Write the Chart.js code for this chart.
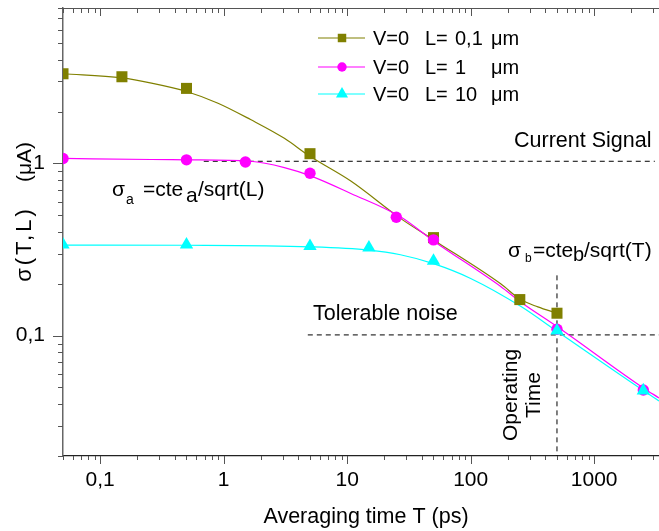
<!DOCTYPE html>
<html>
<head>
<meta charset="utf-8">
<script src="https://cdn.jsdelivr.net/npm/chart.js@4.4.1/dist/chart.umd.min.js"></script>
<style>
  html, body { margin: 0; padding: 0; background: #fff; overflow: hidden; }
  #wrap { width: 659px; height: 531px; }
</style>
</head>
<body>
<div id="wrap"><canvas id="noiseChart" width="659" height="531"></canvas></div>
<script>
// measured noise sigma (uA) against averaging time T (ps)
const oliveT = [0.05, 0.15, 0.5, 5, 50, 250, 500];
const oliveSigma = [3.32, 3.19, 2.73, 1.14, 0.371, 0.162, 0.135];
const pinkT = [0.05, 0.5, 1.5, 5, 25, 50, 500, 2500];
const pinkSigma = [1.07, 1.05, 1.02, 0.878, 0.487, 0.36, 0.109, 0.0483];
const cyanT = [0.05, 0.5, 5, 15, 50, 500, 2500];
const cyanSigma = [0.338, 0.338, 0.331, 0.324, 0.272, 0.107, 0.048];

// fitted curves through each series
const oliveFitT = [0.05, 0.15, 0.26, 0.5, 0.9, 1.65, 3.1, 5, 10.7, 27, 50, 175, 254, 350, 500];
const oliveFitSigma = [3.32, 3.14, 2.93, 2.62, 2.24, 1.80, 1.40, 1.10, 0.79, 0.48, 0.36, 0.20, 0.162, 0.147, 0.135];
const pinkFitT = [0.05, 0.26, 0.5, 1.65, 3.1, 5, 10.7, 27, 50, 175, 254, 500, 2500, 3350];
const pinkFitSigma = [1.07, 1.055, 1.05, 1.03, 0.947, 0.85, 0.67, 0.49, 0.355, 0.193, 0.157, 0.113, 0.0497, 0.0435];
const cyanFitT = [0.05, 0.5, 5, 15, 27, 50, 100, 254, 500, 2500, 3350];
const cyanFitSigma = [0.336, 0.335, 0.328, 0.314, 0.295, 0.262, 0.215, 0.148, 0.106, 0.048, 0.0418];

// reference levels
const signalT = [0.69, 3100];
const signalSigma = [1.03, 1.03];
const noiseT = [4.8, 3350];
const noiseSigma = [0.101, 0.101];
const opTimeT = [500, 500];
const opTimeSigma = [0.224, 0.02];

const xTickValues = [0.1, 1, 10, 100, 1000];
const xTickLabels = ['0,1', '1', '10', '100', '1000'];
const yTickValues = [0.1, 1];
const yTickLabels = ['0,1', '1'];

const legendLabels = [
  ['V=0', 'L=', '0,1', 'μm'],
  ['V=0', 'L=', '1', 'μm'],
  ['V=0', 'L=', '10', 'μm']
];

const OLIVE = '#808000', PINK = '#ff00ff', CYAN = '#00ffff';
const FAMILY = '"Liberation Sans", Arial, sans-serif';
const AXIS = '#555';

Chart.defaults.font.family = FAMILY;
Chart.defaults.color = '#000';

function pts(xs, ys) {
  return xs.map((t, i) => ({ x: t, y: ys[i] }));
}

function markers(xs, ys, color, style, radius) {
  return {
    data: pts(xs, ys),
    showLine: false,
    pointStyle: style,
    pointRadius: radius,
    pointBackgroundColor: color,
    pointBorderWidth: 0,
    borderColor: color,
    backgroundColor: color,
    clip: 0
  };
}

function curve(xs, ys, color) {
  return {
    data: pts(xs, ys),
    showLine: true,
    borderColor: color,
    borderWidth: 1.2,
    pointRadius: 0,
    cubicInterpolationMode: 'monotone',
    clip: 0
  };
}

function dashed(xs, ys) {
  return {
    data: pts(xs, ys),
    showLine: true,
    borderColor: '#000',
    borderWidth: 1,
    borderDash: [5, 4],
    pointRadius: 0,
    clip: 0
  };
}

function text(ctx, str, x, y, size, align) {
  ctx.font = size + 'px ' + FAMILY;
  ctx.textAlign = align || 'left';
  ctx.textBaseline = 'alphabetic';
  ctx.fillText(str, x, y);
}

function seg(ctx, x1, y1, x2, y2) {
  ctx.beginPath();
  ctx.moveTo(x1, y1);
  ctx.lineTo(x2, y2);
  ctx.stroke();
}

// keep the plot box fixed: no extra room for tick labels
function noPadding(scale) {
  scale.paddingTop = 0;
  scale.paddingBottom = 0;
  scale.paddingLeft = 0;
  scale.paddingRight = 0;
}

// tick marks, top frame, legend and the notes on the plot
const decorations = {
  id: 'decorations',
  afterDraw(chart) {
    const { ctx, chartArea: a, scales: { x, y } } = chart;
    ctx.save();
    ctx.strokeStyle = AXIS;
    ctx.lineWidth = 1;

    // top frame
    seg(ctx, a.left, a.top + 0.5, a.right, a.top + 0.5);

    for (let e = -2; e <= 3; e++) {
      for (let m = 1; m <= 9; m++) {
        const v = m * Math.pow(10, e);
        if (v < x.min * 0.999 || v > x.max) continue;
        const px = Math.round(x.getPixelForValue(v)) + 0.5;
        const major = m === 1;
        seg(ctx, px, a.bottom, px, a.bottom + (major ? 8 : 4));
        seg(ctx, px, a.top, px, a.top + (major ? 8 : 5));
      }
    }
    for (let e = -2; e <= 0; e++) {
      for (let m = 1; m <= 9; m++) {
        const v = m * Math.pow(10, e);
        if (v < y.min * 0.999 || v > y.max * 1.001) continue;
        const py = Math.round(y.getPixelForValue(v)) + 0.5;
        const major = m === 1;
        seg(ctx, a.left, py, a.left - (major ? 10 : 5), py);
      }
    }

    // legend
    const rows = [
      { color: OLIVE, style: 'rect', r: 6, y: 38 },
      { color: PINK, style: 'circle', r: 4.7, y: 67 },
      { color: CYAN, style: 'triangle', r: 7, y: 94 }
    ];
    rows.forEach((row, i) => {
      ctx.strokeStyle = row.color;
      ctx.lineWidth = 1.2;
      seg(ctx, 318, row.y, 365, row.y);
      ctx.fillStyle = row.color;
      Chart.helpers.drawPoint(ctx, { pointStyle: row.style, radius: row.r, rotation: 0, borderWidth: 0 }, 342, row.y);
      ctx.fillStyle = '#000';
      const parts = legendLabels[i];
      text(ctx, parts[0], 373, row.y + 7, 20);
      text(ctx, parts[1], 425, row.y + 7, 20);
      text(ctx, parts[2], 455, row.y + 7, 20);
      text(ctx, parts[3], 491, row.y + 7, 20);
    });

    // notes
    ctx.fillStyle = '#000';
    text(ctx, 'Current Signal', 514, 147, 21.5);
    text(ctx, 'Tolerable noise', 313, 320, 21.5);

    text(ctx, 'σ', 112, 196, 21);
    text(ctx, 'a', 126, 204, 14);
    text(ctx, '=cte', 143, 196, 21);
    text(ctx, 'a', 186, 202, 21);
    text(ctx, '/sqrt(L)', 198, 196, 21);

    text(ctx, 'σ', 508, 257, 21);
    text(ctx, 'b', 525, 262, 12);
    text(ctx, '=cte', 533, 257, 21);
    text(ctx, 'b', 573, 261, 20);
    text(ctx, '/sqrt(T)', 584, 257, 21);

    ctx.save();
    ctx.translate(517, 395);
    ctx.rotate(-Math.PI / 2);
    text(ctx, 'Operating', 0, 0, 21, 'center');
    text(ctx, 'Time', 0, 23, 21, 'center');
    ctx.restore();

    // axis titles
    ctx.save();
    ctx.translate(31, 0);
    ctx.rotate(-Math.PI / 2);
    text(ctx, '(μA)', -162, 0, 21, 'center');
    ctx.letterSpacing = '3px';
    text(ctx, 'σ(T,L)', -244, 0, 22, 'center');
    ctx.restore();
    text(ctx, 'Averaging time T (ps)', 366, 523, 21.5, 'center');

    ctx.restore();
  }
};

new Chart(document.getElementById('noiseChart'), {
  type: 'scatter',
  data: {
    datasets: [
      markers(cyanT, cyanSigma, CYAN, 'triangle', 7.7),
      markers(pinkT, pinkSigma, PINK, 'circle', 5.7),
      markers(oliveT, oliveSigma, OLIVE, 'rect', 7.8),
      curve(cyanFitT, cyanFitSigma, CYAN),
      curve(pinkFitT, pinkFitSigma, PINK),
      curve(oliveFitT, oliveFitSigma, OLIVE),
      dashed(signalT, signalSigma),
      dashed(noiseT, noiseSigma),
      dashed(opTimeT, opTimeSigma)
    ]
  },
  options: {
    responsive: false,
    animation: false,
    events: [],
    // the plot box runs to the right edge of the canvas
    layout: { autoPadding: false, padding: { top: 8, right: 0, bottom: 0, left: 0 } },
    plugins: {
      legend: { display: false },
      tooltip: { enabled: false }
    },
    scales: {
      x: {
        type: 'logarithmic',
        position: 'bottom',
        min: 0.05,
        max: 3350,
        afterBuildTicks: (scale) => { scale.ticks = xTickValues.map(v => ({ value: v })); },
        afterFit: (scale) => { scale.height = 75; noPadding(scale); },
        ticks: {
          autoSkip: false,
          maxRotation: 0,
          padding: 12,
          font: { size: 21 },
          callback: (v, i) => xTickLabels[i]
        },
        grid: { display: false, drawTicks: false },
        border: { display: true, color: '#222', width: 1.2 }
      },
      y: {
        type: 'logarithmic',
        position: 'left',
        min: 0.02,
        max: 8,
        afterBuildTicks: (scale) => { scale.ticks = yTickValues.map(v => ({ value: v })); },
        afterFit: (scale) => { scale.width = 63; noPadding(scale); },
        ticks: {
          autoSkip: false,
          padding: 18,
          font: { size: 21 },
          callback: (v, i) => yTickLabels[i]
        },
        grid: { display: false, drawTicks: false },
        border: { display: true, color: '#666', width: 1.5 }
      }
    }
  },
  plugins: [decorations]
});
</script>
</body>
</html>
